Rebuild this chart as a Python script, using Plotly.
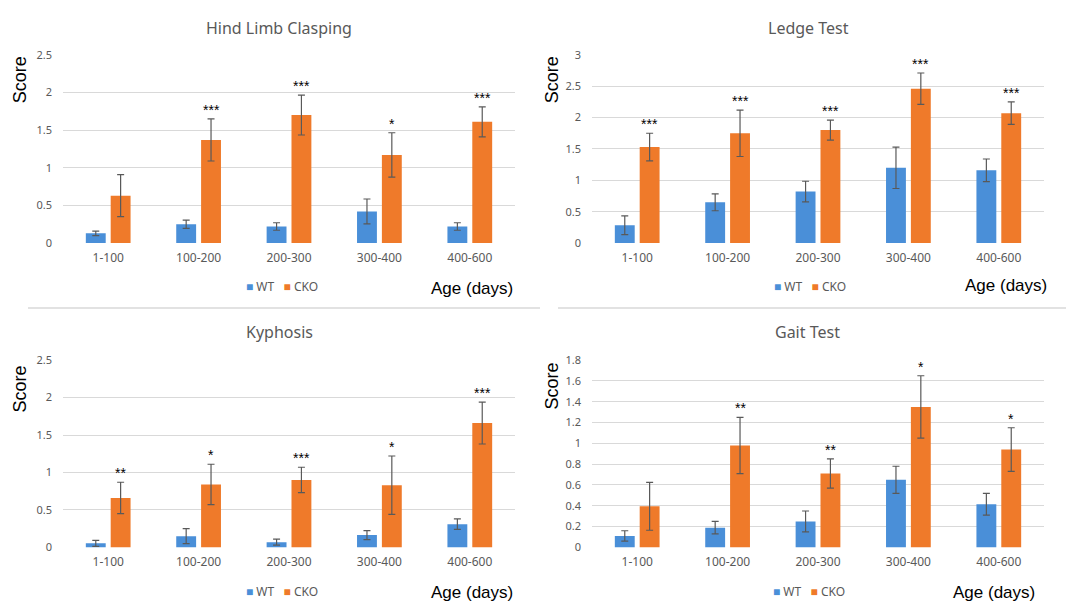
import plotly.graph_objects as go

categories = ["1-100", "100-200", "200-300", "300-400", "400-600"]

# Hind Limb Clasping
hind_wt = [0.13, 0.25, 0.22, 0.42, 0.22]
hind_wt_err = [0.03, 0.055, 0.05, 0.165, 0.05]
hind_cko = [0.63, 1.37, 1.70, 1.17, 1.61]
hind_cko_err = [0.28, 0.28, 0.265, 0.295, 0.20]
hind_stars = ["", "***", "***", "*", "***"]

# Ledge Test
ledge_wt = [0.285, 0.65, 0.82, 1.20, 1.16]
ledge_wt_err = [0.15, 0.135, 0.165, 0.33, 0.18]
ledge_cko = [1.53, 1.75, 1.80, 2.46, 2.07]
ledge_cko_err = [0.22, 0.37, 0.16, 0.25, 0.18]
ledge_stars = ["***", "***", "***", "***", "***"]

# Kyphosis
kyph_wt = [0.055, 0.15, 0.07, 0.165, 0.31]
kyph_wt_err = [0.04, 0.10, 0.04, 0.06, 0.07]
kyph_cko = [0.66, 0.84, 0.90, 0.83, 1.66]
kyph_cko_err = [0.21, 0.27, 0.17, 0.39, 0.28]
kyph_stars = ["**", "*", "***", "*", "***"]

# Gait Test
gait_wt = [0.11, 0.19, 0.25, 0.65, 0.415]
gait_wt_err = [0.05, 0.06, 0.10, 0.13, 0.105]
gait_cko = [0.395, 0.98, 0.71, 1.35, 0.94]
gait_cko_err = [0.23, 0.27, 0.14, 0.30, 0.21]
gait_stars = ["", "**", "**", "*", "*"]

titles = ["Hind Limb Clasping", "Ledge Test", "Kyphosis", "Gait Test"]
series_names = ["WT", "CKO"]
y_ranges = [2.5, 3, 2.5, 1.8]
y_dticks = [0.5, 0.5, 0.5, 0.2]

panels = [
    (hind_wt, hind_wt_err, hind_cko, hind_cko_err, hind_stars),
    (ledge_wt, ledge_wt_err, ledge_cko, ledge_cko_err, ledge_stars),
    (kyph_wt, kyph_wt_err, kyph_cko, kyph_cko_err, kyph_stars),
    (gait_wt, gait_wt_err, gait_cko, gait_cko_err, gait_stars),
]

W, H = 1077, 610
BLUE = "#4a8fd8"
ORANGE = "#ef7a2a"
GRAY = "#595959"
GRID = "#d9d9d9"

# panel pixel boxes: (left, right, top, bottom)
boxes = [
    (63, 515, 48, 241),
    (592, 1044, 48, 241),
    (63, 515, 361, 553),
    (592, 1044, 361, 553),
]
title_pos = [(279, 20), (808, 20), (279, 332), (807, 332)]
score_pos = [(20, 73), (552, 74), (20, 390), (552, 388)]
age_pos = [(515, 288), (1049, 284), (515, 599), (1037, 599)]
legend_pos = [(282, 286), (810, 286), (282, 598), (809, 598)]

fig = go.Figure()
annotations = []
layout = {}

for i, (wt, wt_err, cko, cko_err, stars) in enumerate(panels):
    n = "" if i == 0 else str(i + 1)
    xa, ya = "x" + n, "y" + n
    fig.add_trace(go.Bar(
        x=categories, y=wt, name=series_names[0], marker=dict(color=BLUE, line=dict(width=0)),
        error_y=dict(type="data", array=wt_err, color=GRAY, thickness=1.2, width=3.5),
        xaxis=xa, yaxis=ya, showlegend=False, offsetgroup="wt",
    ))
    fig.add_trace(go.Bar(
        x=categories, y=cko, name=series_names[1], marker=dict(color=ORANGE, line=dict(width=0)),
        error_y=dict(type="data", array=cko_err, color=GRAY, thickness=1.2, width=3.5),
        xaxis=xa, yaxis=ya, showlegend=False, offsetgroup="cko",
    ))
    l, r, t, b = boxes[i]
    layout["xaxis" + n] = dict(domain=[l / W, r / W], anchor=ya, showgrid=False, showline=False,
                               zeroline=False, ticks="", ticklabelstandoff=6,
                               tickfont=dict(family="Noto Sans", size=12, color=GRAY), fixedrange=True)
    layout["yaxis" + n] = dict(domain=[1 - b / H, 1 - t / H], anchor=xa, range=[0, y_ranges[i]],
                               dtick=y_dticks[i], tick0=0, showgrid=True, gridcolor=GRID, gridwidth=1,
                               showline=False, zeroline=False, ticks="", ticklabelstandoff=10,
                               tickfont=dict(family="Noto Sans", size=11, color=GRAY), fixedrange=True)

    lx, ly = legend_pos[i]
    legend_text = (f"<span style='color:{BLUE}'>■</span> {series_names[0]}   "
                   f"<span style='color:{ORANGE}'>■</span> {series_names[1]}")
    annotations.append(dict(text=legend_text, x=lx / W, y=1 - ly / H, xref="paper", yref="paper",
                            showarrow=False, xanchor="center", yanchor="middle",
                            font=dict(family="Noto Sans", size=12, color=GRAY)))
    tx, ty = title_pos[i]
    annotations.append(dict(text=titles[i], x=tx / W, y=1 - ty / H, xref="paper", yref="paper",
                            showarrow=False, xanchor="center", yanchor="middle",
                            font=dict(family="Noto Sans", size=16, color=GRAY)))
    sx, sy = score_pos[i]
    annotations.append(dict(text="Score", x=sx / W, y=1 - sy / H, xref="paper", yref="paper",
                            showarrow=False, xanchor="center", yanchor="middle", textangle=-90,
                            font=dict(family="Liberation Sans", size=18, color="black")))
    axx, axy = age_pos[i]
    annotations.append(dict(text="Age (days)", x=axx / W, y=1 - axy / H, xref="paper", yref="paper",
                            showarrow=False, xanchor="right", yanchor="middle",
                            font=dict(family="Liberation Sans", size=17, color="black")))
    for c, v, e, s in zip(categories, cko, cko_err, stars):
        if s:
            annotations.append(dict(text=s, x=c, y=v + e, xref=xa, yref=ya, showarrow=False,
                                    xanchor="center", yanchor="bottom", xshift=12.4, yshift=-1,
                                    font=dict(family="Liberation Sans", size=14, color="black")))

shapes = [
    dict(type="line", xref="paper", yref="paper", x0=28 / W, x1=540 / W,
         y0=1 - 307.5 / H, y1=1 - 307.5 / H, line=dict(color=GRID, width=1.5)),
    dict(type="line", xref="paper", yref="paper", x0=558 / W, x1=1066 / W,
         y0=1 - 307.5 / H, y1=1 - 307.5 / H, line=dict(color=GRID, width=1.5)),
]

fig.update_layout(
    width=W, height=H, margin=dict(l=0, r=0, t=0, b=0),
    paper_bgcolor="white", plot_bgcolor="white",
    barmode="group", bargap=0.45, bargroupgap=0.2,
    annotations=annotations, shapes=shapes, **layout,
)

fig.write_html("out.html", config={"displayModeBar": False},
               post_script="document.body.style.margin='0';document.body.style.overflow='hidden';")
